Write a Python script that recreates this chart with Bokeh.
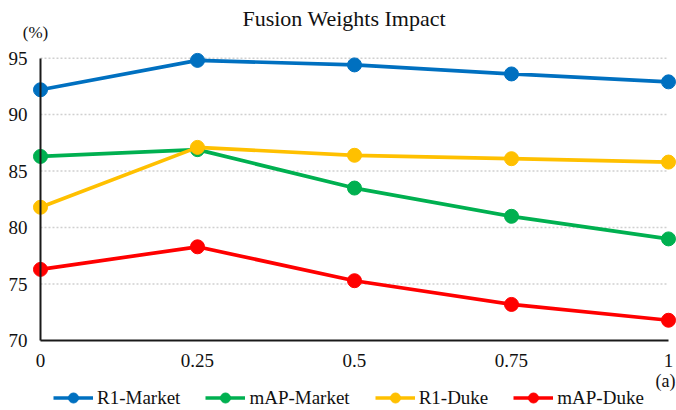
from bokeh.plotting import figure
from bokeh.models import (Range1d, FixedTicker, Legend, LegendItem, Label)
from bokeh.embed import file_html
from bokeh.resources import INLINE

weights = [0, 0.25, 0.5, 0.75, 1]
r1_market = [92.2, 94.8, 94.4, 93.6, 92.9]
map_market = [86.3, 86.9, 83.5, 81.0, 79.0]
r1_duke = [81.8, 87.1, 86.4, 86.1, 85.8]
map_duke = [76.3, 78.3, 75.3, 73.2, 71.8]
series_names = ["R1-Market", "mAP-Market", "R1-Duke", "mAP-Duke"]
series_colors = ["#0070C0", "#00B050", "#FFC000", "#FF0000"]
y_ticks = [70, 75, 80, 85, 90, 95]
x_tick_labels = {0: "0", 0.25: "0.25", 0.5: "0.5", 0.75: "0.75", 1: "1"}

FONT = "Liberation Serif"
TXT = "#111111"

p = figure(width=676, height=410, output_backend="svg", toolbar_location=None,
           x_range=Range1d(-0.06369, 1.01274), y_range=Range1d(63.812, 100.101),
           min_border=0, min_border_left=0, min_border_right=0,
           min_border_top=0, min_border_bottom=0)
p.outline_line_color = None
p.xgrid.visible = False
p.ygrid.visible = False
p.background_fill_color = "white"

# dotted gridlines
grid_vals = [v for v in y_ticks if v > y_ticks[0]]
p.segment(x0=[weights[0]] * len(grid_vals), x1=[weights[-1]] * len(grid_vals),
          y0=grid_vals, y1=grid_vals, line_color="#D0D0D0", line_width=1.5,
          line_dash="2 2")

items = []
for vals, name, col in zip([r1_market, map_market, r1_duke, map_duke],
                           series_names, series_colors):
    l = p.line(weights, vals, line_color=col, line_width=3.7)
    s = p.scatter(weights, vals, size=14, fill_color=col, line_color=col)
    items.append(LegendItem(label=name, renderers=[l, s]))

legend = Legend(items=items, orientation="horizontal", location=(53, 0),
                spacing=25, label_standoff=4, glyph_width=40, glyph_height=25,
                padding=0, margin=0, border_line_color=None,
                background_fill_alpha=0, label_text_font=FONT,
                label_text_font_size="19px", label_text_color=TXT)
p.add_layout(legend, "center")

xa = p.xaxis[0]
ya = p.yaxis[0]
for ax in (xa, ya):
    ax.axis_line_color = "#1a1a1a"
    ax.axis_line_width = 2
    ax.major_tick_line_color = None
    ax.major_tick_out = 0
    ax.major_tick_in = 0
    ax.minor_tick_line_color = None
    ax.minor_tick_out = 0
    ax.major_label_text_font = FONT
    ax.major_label_text_font_size = "19px"
    ax.major_label_text_color = TXT

xa.fixed_location = y_ticks[0]
xa.bounds = (weights[0], weights[-1])
xa.ticker = FixedTicker(ticks=weights)
xa.major_label_overrides = x_tick_labels
xa.major_label_standoff = 13

ya.fixed_location = weights[0]
ya.bounds = (y_ticks[0], y_ticks[-1])
ya.ticker = FixedTicker(ticks=y_ticks)
ya.major_label_standoff = 13

p.add_layout(Label(x=0.488, y=98.51, text="Fusion Weights  Impact",
                   text_font=FONT, text_font_size="22px", text_align="center",
                   text_baseline="alphabetic", text_color=TXT))
p.add_layout(Label(x=-0.008, y=97.30, text="(%)", text_font=FONT,
                   text_font_size="17px", text_align="center",
                   text_baseline="alphabetic", text_color=TXT))
p.add_layout(Label(x=0.9952, y=66.38, text="(a)", text_font=FONT,
                   text_font_size="18px", text_align="center",
                   text_baseline="alphabetic", text_color=TXT))

open("out.html", "w").write(file_html(p, INLINE))
